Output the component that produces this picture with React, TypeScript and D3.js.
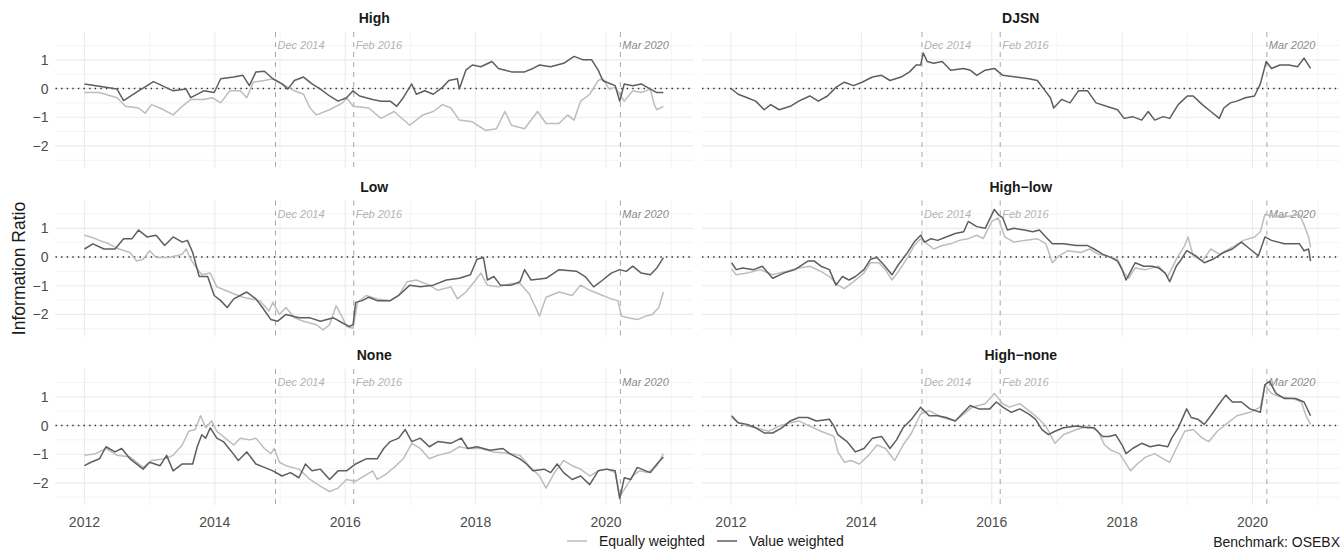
import React from "react";
import * as d3 from "d3";

type Pt = [number, number];

// facet titles (row by row, left to right)
const panelNames = ["High", "DJSN", "Low", "High\u2212low", "None", "High\u2212none"];

const seriesNames = ["Equally weighted", "Value weighted"];

const eventLabels = ["Dec 2014", "Feb 2016", "Mar 2020"];
const eventDates = [2014.93, 2016.13, 2020.22];

const yearTicks = [2012, 2014, 2016, 2018, 2020];
const yearMinor = [2013, 2015, 2017, 2019, 2021];
const irTicks = [-2, -1, 0, 1];
const irMinor = [-2.5, -1.5, -0.5, 0.5, 1.5];

// information ratio, [decimal year, value]
const highEqual: Pt[] = [
  [2012.0, -0.14], [2012.23, -0.14], [2012.5, -0.32], [2012.63, -0.62], [2012.83, -0.68], [2012.93, -0.86],
  [2013.03, -0.56], [2013.16, -0.68], [2013.36, -0.92], [2013.5, -0.62], [2013.63, -0.38], [2013.83, -0.38],
  [2013.96, -0.32], [2014.09, -0.5], [2014.23, -0.08], [2014.39, -0.08], [2014.49, -0.32], [2014.59, 0.22],
  [2014.76, 0.28], [2014.89, 0.34], [2015.03, 0.16], [2015.22, -0.08], [2015.36, -0.2], [2015.46, -0.68],
  [2015.56, -0.92], [2015.76, -0.74], [2015.96, -0.5], [2016.02, -0.32], [2016.12, -0.62], [2016.36, -0.68],
  [2016.55, -1.04], [2016.75, -0.8], [2016.99, -1.28], [2017.19, -0.92], [2017.35, -0.8], [2017.49, -0.56],
  [2017.62, -0.68], [2017.75, -1.1], [2017.95, -1.16], [2018.15, -1.46], [2018.32, -1.4], [2018.45, -0.8],
  [2018.55, -1.28], [2018.75, -1.4], [2018.95, -0.8], [2019.08, -1.22], [2019.28, -1.22], [2019.41, -0.92],
  [2019.51, -1.1], [2019.61, -0.44], [2019.75, -0.2], [2019.88, 0.28], [2019.95, 0.34], [2020.05, -0.02],
  [2020.14, 0.04], [2020.28, -0.44], [2020.41, -0.08], [2020.54, -0.14], [2020.68, -0.02], [2020.74, -0.56],
  [2020.78, -0.74], [2020.88, -0.62],
];
const highValue: Pt[] = [
  [2012.0, 0.16], [2012.5, -0.02], [2012.6, -0.42], [2012.83, -0.08], [2013.06, 0.24], [2013.36, -0.08],
  [2013.56, -0.02], [2013.63, -0.32], [2013.83, -0.08], [2013.99, -0.14], [2014.09, 0.34], [2014.29, 0.4],
  [2014.43, 0.46], [2014.53, 0.1], [2014.63, 0.58], [2014.76, 0.6], [2014.89, 0.34], [2015.03, 0.16],
  [2015.12, -0.02], [2015.22, 0.28], [2015.36, 0.4], [2015.49, 0.16], [2015.62, -0.02], [2015.76, -0.26],
  [2015.89, -0.44], [2016.02, -0.32], [2016.12, -0.08], [2016.22, -0.26], [2016.42, -0.38], [2016.55, -0.44],
  [2016.69, -0.44], [2016.79, -0.62], [2016.89, -0.32], [2017.02, 0.16], [2017.09, -0.2], [2017.22, -0.08],
  [2017.35, -0.2], [2017.49, 0.04], [2017.59, 0.28], [2017.72, 0.34], [2017.75, -0.02], [2017.85, 0.64],
  [2017.95, 0.82], [2018.08, 0.76], [2018.25, 0.94], [2018.35, 0.7], [2018.55, 0.58], [2018.75, 0.58],
  [2018.88, 0.7], [2018.98, 0.82], [2019.15, 0.76], [2019.35, 0.88], [2019.51, 1.12], [2019.65, 1.0],
  [2019.78, 1.0], [2019.88, 0.64], [2019.95, 0.28], [2020.01, 0.22], [2020.14, 0.1], [2020.21, -0.44],
  [2020.28, 0.16], [2020.41, 0.1], [2020.54, 0.16], [2020.68, -0.02], [2020.78, -0.14], [2020.88, -0.14],
];
const djsnValue: Pt[] = [
  [2012.0, 0.0], [2012.11, -0.2], [2012.25, -0.32], [2012.38, -0.44], [2012.51, -0.74], [2012.61, -0.56],
  [2012.74, -0.74], [2012.91, -0.62], [2013.04, -0.44], [2013.21, -0.26], [2013.34, -0.44], [2013.48, -0.26],
  [2013.61, 0.04], [2013.74, 0.22], [2013.88, 0.1], [2014.01, 0.22], [2014.17, 0.4], [2014.31, 0.46],
  [2014.44, 0.28], [2014.61, 0.4], [2014.74, 0.58], [2014.84, 0.82], [2014.91, 0.82], [2014.95, 1.24],
  [2015.01, 0.94], [2015.11, 0.88], [2015.24, 0.94], [2015.37, 0.64], [2015.57, 0.7], [2015.67, 0.64],
  [2015.77, 0.46], [2015.9, 0.64], [2016.04, 0.7], [2016.17, 0.46], [2016.37, 0.4], [2016.57, 0.34],
  [2016.7, 0.28], [2016.8, -0.02], [2016.9, -0.32], [2016.95, -0.68], [2017.07, -0.38], [2017.2, -0.5],
  [2017.33, -0.08], [2017.47, -0.08], [2017.6, -0.5], [2017.76, -0.62], [2017.93, -0.74], [2018.03, -1.04],
  [2018.16, -0.98], [2018.3, -1.1], [2018.4, -0.8], [2018.5, -1.1], [2018.63, -0.98], [2018.73, -1.04],
  [2018.86, -0.56], [2019.0, -0.26], [2019.09, -0.26], [2019.23, -0.56], [2019.36, -0.8], [2019.49, -1.04],
  [2019.56, -0.68], [2019.66, -0.5], [2019.76, -0.44], [2019.89, -0.32], [2020.03, -0.26], [2020.12, 0.16],
  [2020.21, 0.94], [2020.29, 0.7], [2020.42, 0.82], [2020.56, 0.82], [2020.69, 0.76], [2020.79, 1.06],
  [2020.89, 0.7],
];
const lowEqual: Pt[] = [
  [2012.0, 0.76], [2012.1, 0.7], [2012.23, 0.58], [2012.37, 0.46], [2012.53, 0.28], [2012.7, 0.16],
  [2012.8, -0.14], [2012.9, -0.08], [2013.0, 0.22], [2013.1, -0.02], [2013.3, -0.02], [2013.5, 0.1],
  [2013.56, 0.28], [2013.63, -0.08], [2013.7, -0.32], [2013.8, -0.62], [2013.93, -0.56], [2014.03, -1.04],
  [2014.16, -1.16], [2014.29, -1.28], [2014.43, -1.4], [2014.56, -1.46], [2014.69, -1.52], [2014.83, -1.88],
  [2014.89, -1.58], [2014.99, -2.0], [2015.09, -1.76], [2015.22, -2.12], [2015.36, -2.24], [2015.56, -2.36],
  [2015.66, -2.54], [2015.76, -2.36], [2015.86, -1.7], [2015.96, -2.12], [2016.02, -2.42], [2016.12, -2.48],
  [2016.19, -1.58], [2016.32, -1.34], [2016.49, -1.46], [2016.69, -1.52], [2016.82, -1.34], [2016.95, -0.86],
  [2017.09, -0.8], [2017.29, -0.98], [2017.42, -1.16], [2017.62, -1.04], [2017.72, -1.46], [2017.85, -1.22],
  [2017.98, -0.86], [2018.08, -0.56], [2018.18, -0.98], [2018.35, -1.04], [2018.55, -0.92], [2018.68, -0.92],
  [2018.82, -1.28], [2018.92, -1.76], [2018.98, -2.06], [2019.08, -1.4], [2019.28, -1.22], [2019.48, -1.34],
  [2019.61, -0.98], [2019.75, -1.16], [2019.95, -1.34], [2020.08, -1.46], [2020.18, -1.52], [2020.24, -2.06],
  [2020.34, -2.12], [2020.48, -2.18], [2020.61, -2.06], [2020.71, -2.0], [2020.81, -1.76], [2020.88, -1.22],
];
const lowValue: Pt[] = [
  [2012.0, 0.28], [2012.13, 0.46], [2012.3, 0.28], [2012.47, 0.28], [2012.6, 0.64], [2012.73, 0.64],
  [2012.83, 0.94], [2012.96, 0.7], [2013.1, 0.76], [2013.23, 0.4], [2013.36, 0.7], [2013.5, 0.52],
  [2013.58, 0.58], [2013.66, 0.16], [2013.76, -0.68], [2013.89, -0.68], [2013.99, -1.34], [2014.09, -1.52],
  [2014.19, -1.76], [2014.29, -1.46], [2014.49, -1.22], [2014.63, -1.46], [2014.73, -1.76], [2014.86, -2.18],
  [2014.96, -2.24], [2015.09, -2.0], [2015.29, -2.12], [2015.46, -2.12], [2015.62, -2.24], [2015.82, -2.12],
  [2015.96, -2.3], [2016.06, -2.42], [2016.12, -2.36], [2016.16, -1.58], [2016.26, -1.52], [2016.36, -1.4],
  [2016.49, -1.52], [2016.69, -1.52], [2016.82, -1.34], [2016.99, -0.98], [2017.15, -1.04], [2017.35, -0.98],
  [2017.55, -0.8], [2017.75, -0.74], [2017.92, -0.62], [2018.02, -0.08], [2018.12, -0.02], [2018.18, -0.8],
  [2018.28, -0.68], [2018.38, -0.98], [2018.55, -0.98], [2018.68, -0.86], [2018.75, -0.44], [2018.85, -0.8],
  [2019.08, -0.74], [2019.28, -0.44], [2019.55, -0.5], [2019.68, -0.68], [2019.81, -1.04], [2019.95, -0.8],
  [2020.08, -0.56], [2020.21, -0.44], [2020.31, -0.5], [2020.41, -0.32], [2020.54, -0.56], [2020.68, -0.62],
  [2020.78, -0.38], [2020.88, -0.02],
];
const highLowEqual: Pt[] = [
  [2012.01, -0.42], [2012.08, -0.62], [2012.25, -0.56], [2012.45, -0.44], [2012.64, -0.62], [2012.84, -0.5],
  [2013.04, -0.38], [2013.21, -0.32], [2013.38, -0.5], [2013.51, -0.68], [2013.64, -0.98], [2013.74, -1.1],
  [2013.88, -0.86], [2014.04, -0.56], [2014.14, -0.2], [2014.27, -0.2], [2014.37, -0.44], [2014.47, -0.8],
  [2014.57, -0.5], [2014.71, -0.02], [2014.81, 0.4], [2014.91, 0.64], [2015.01, 0.46], [2015.11, 0.28],
  [2015.24, 0.4], [2015.37, 0.46], [2015.5, 0.58], [2015.64, 0.64], [2015.77, 0.76], [2015.87, 0.64],
  [2016.0, 1.24], [2016.1, 1.36], [2016.2, 0.7], [2016.34, 0.52], [2016.5, 0.58], [2016.7, 0.64],
  [2016.83, 0.46], [2016.93, -0.2], [2017.03, 0.04], [2017.17, 0.22], [2017.37, 0.16], [2017.5, 0.28],
  [2017.63, 0.1], [2017.76, 0.04], [2017.93, -0.08], [2018.03, -0.56], [2018.1, -0.74], [2018.2, -0.38],
  [2018.36, -0.44], [2018.56, -0.32], [2018.7, -0.68], [2018.83, -0.08], [2018.96, 0.4], [2019.01, 0.7],
  [2019.09, 0.04], [2019.23, -0.14], [2019.36, 0.28], [2019.49, 0.1], [2019.69, 0.34], [2019.86, 0.58],
  [2020.03, 0.7], [2020.12, 0.88], [2020.19, 1.48], [2020.36, 1.42], [2020.56, 1.42], [2020.72, 1.48],
  [2020.79, 1.12], [2020.86, 0.7], [2020.89, 0.34],
];
const highLowValue: Pt[] = [
  [2012.01, -0.2], [2012.08, -0.44], [2012.18, -0.38], [2012.35, -0.44], [2012.48, -0.32], [2012.64, -0.74],
  [2012.81, -0.56], [2012.98, -0.44], [2013.18, -0.14], [2013.28, -0.14], [2013.38, -0.32], [2013.51, -0.44],
  [2013.61, -0.98], [2013.71, -0.68], [2013.81, -0.8], [2013.91, -0.68], [2014.04, -0.44], [2014.14, -0.08],
  [2014.24, -0.02], [2014.34, -0.26], [2014.47, -0.62], [2014.57, -0.26], [2014.71, 0.16], [2014.81, 0.52],
  [2014.91, 0.76], [2014.97, 0.52], [2015.07, 0.64], [2015.17, 0.58], [2015.3, 0.7], [2015.44, 0.82],
  [2015.57, 0.88], [2015.64, 1.24], [2015.77, 1.06], [2015.9, 1.0], [2016.04, 1.66], [2016.1, 1.48],
  [2016.17, 1.36], [2016.24, 0.94], [2016.34, 1.0], [2016.5, 0.94], [2016.63, 0.88], [2016.73, 0.94],
  [2016.83, 0.7], [2016.93, 0.46], [2017.1, 0.46], [2017.3, 0.4], [2017.47, 0.4], [2017.57, 0.28],
  [2017.7, 0.1], [2017.83, -0.02], [2017.93, -0.14], [2018.0, -0.44], [2018.06, -0.8], [2018.13, -0.5],
  [2018.2, -0.2], [2018.33, -0.32], [2018.46, -0.32], [2018.56, -0.38], [2018.66, -0.56], [2018.73, -0.86],
  [2018.83, -0.32], [2018.89, -0.14], [2018.99, 0.22], [2019.13, 0.04], [2019.26, -0.2], [2019.39, -0.08],
  [2019.56, 0.16], [2019.69, 0.28], [2019.83, 0.52], [2019.96, 0.28], [2020.09, 0.04], [2020.19, 0.7],
  [2020.29, 0.58], [2020.49, 0.46], [2020.62, 0.46], [2020.72, 0.46], [2020.79, 0.22], [2020.86, 0.28],
  [2020.89, -0.14],
];
const noneEqual: Pt[] = [
  [2012.0, -1.04], [2012.17, -0.98], [2012.33, -0.8], [2012.5, -1.04], [2012.7, -1.1], [2012.9, -1.46],
  [2013.03, -1.22], [2013.23, -1.16], [2013.36, -1.04], [2013.5, -0.68], [2013.6, -0.2], [2013.7, -0.14],
  [2013.78, 0.34], [2013.86, -0.08], [2013.95, 0.16], [2014.03, -0.2], [2014.16, -0.44], [2014.29, -0.68],
  [2014.39, -0.44], [2014.53, -0.5], [2014.63, -0.44], [2014.76, -0.8], [2014.86, -0.98], [2014.91, -0.8],
  [2014.99, -1.28], [2015.09, -1.4], [2015.29, -1.52], [2015.46, -1.88], [2015.62, -2.12], [2015.76, -2.3],
  [2015.89, -2.18], [2016.02, -1.88], [2016.16, -1.94], [2016.29, -1.76], [2016.42, -1.58], [2016.49, -1.88],
  [2016.62, -1.7], [2016.75, -1.46], [2016.89, -1.16], [2017.02, -0.62], [2017.15, -0.8], [2017.29, -1.16],
  [2017.42, -1.04], [2017.62, -0.92], [2017.75, -0.74], [2017.88, -0.8], [2018.08, -0.8], [2018.28, -0.92],
  [2018.55, -0.98], [2018.68, -1.04], [2018.82, -1.4], [2018.98, -1.76], [2019.08, -2.18], [2019.21, -1.64],
  [2019.35, -1.22], [2019.48, -1.4], [2019.61, -1.52], [2019.75, -1.76], [2019.88, -1.58], [2020.01, -1.52],
  [2020.14, -1.64], [2020.21, -2.48], [2020.31, -2.12], [2020.41, -1.76], [2020.51, -1.58], [2020.64, -1.64],
  [2020.78, -1.4], [2020.88, -0.98],
];
const noneValue: Pt[] = [
  [2012.0, -1.4], [2012.1, -1.28], [2012.23, -1.16], [2012.33, -0.74], [2012.47, -0.92], [2012.57, -0.8],
  [2012.7, -1.16], [2012.9, -1.52], [2013.0, -1.28], [2013.16, -1.4], [2013.26, -1.04], [2013.36, -1.58],
  [2013.5, -1.34], [2013.66, -1.34], [2013.73, -0.74], [2013.8, -0.32], [2013.86, -0.44], [2013.93, -0.08],
  [2014.03, -0.44], [2014.13, -0.56], [2014.26, -0.92], [2014.36, -1.22], [2014.49, -0.92], [2014.63, -1.34],
  [2014.76, -1.46], [2014.89, -1.58], [2015.03, -1.76], [2015.16, -1.64], [2015.29, -1.82], [2015.39, -1.34],
  [2015.49, -1.58], [2015.62, -1.52], [2015.76, -1.88], [2015.89, -1.58], [2016.02, -1.58], [2016.16, -1.34],
  [2016.32, -1.16], [2016.49, -1.16], [2016.59, -0.8], [2016.69, -0.56], [2016.82, -0.44], [2016.92, -0.14],
  [2017.02, -0.56], [2017.15, -0.44], [2017.29, -0.74], [2017.42, -0.56], [2017.62, -0.62], [2017.78, -0.44],
  [2017.88, -0.8], [2018.02, -0.74], [2018.22, -0.86], [2018.42, -0.8], [2018.52, -0.98], [2018.68, -1.16],
  [2018.78, -1.34], [2018.88, -1.58], [2019.05, -1.52], [2019.15, -1.64], [2019.25, -1.34], [2019.35, -1.64],
  [2019.48, -1.88], [2019.61, -1.76], [2019.75, -2.06], [2019.88, -1.58], [2020.01, -1.52], [2020.14, -1.58],
  [2020.21, -2.55], [2020.28, -1.82], [2020.38, -1.88], [2020.48, -1.46], [2020.61, -1.58], [2020.68, -1.64],
  [2020.78, -1.34], [2020.88, -1.1],
];
const highNoneEqual: Pt[] = [
  [2012.01, 0.28], [2012.11, 0.1], [2012.25, -0.02], [2012.38, -0.08], [2012.58, -0.2], [2012.74, -0.02],
  [2012.91, 0.1], [2013.04, 0.16], [2013.21, -0.02], [2013.38, -0.2], [2013.58, -0.38], [2013.64, -0.92],
  [2013.74, -1.28], [2013.84, -1.22], [2013.97, -1.34], [2014.11, -1.04], [2014.24, -0.68], [2014.37, -0.8],
  [2014.51, -1.22], [2014.64, -0.68], [2014.77, -0.26], [2014.91, 0.4], [2015.04, 0.52], [2015.24, 0.28],
  [2015.44, 0.16], [2015.57, 0.4], [2015.7, 0.64], [2015.9, 0.76], [2016.04, 1.12], [2016.17, 0.76],
  [2016.27, 0.64], [2016.43, 0.76], [2016.57, 0.52], [2016.7, 0.28], [2016.83, -0.02], [2016.97, -0.62],
  [2017.1, -0.32], [2017.3, -0.14], [2017.5, -0.02], [2017.63, -0.2], [2017.73, -0.68], [2017.83, -0.86],
  [2017.96, -0.98], [2018.13, -1.58], [2018.23, -1.34], [2018.36, -1.1], [2018.5, -0.98], [2018.63, -1.16],
  [2018.73, -1.28], [2018.83, -0.8], [2018.96, -0.2], [2019.09, -0.14], [2019.23, -0.44], [2019.33, -0.56],
  [2019.46, -0.2], [2019.59, 0.04], [2019.76, 0.34], [2019.96, 0.46], [2020.12, 0.64], [2020.19, 1.42],
  [2020.29, 1.12], [2020.42, 1.0], [2020.62, 0.94], [2020.75, 0.82], [2020.82, 0.34], [2020.89, 0.04],
];
const highNoneValue: Pt[] = [
  [2012.01, 0.34], [2012.11, 0.1], [2012.25, 0.04], [2012.38, -0.08], [2012.51, -0.26], [2012.64, -0.26],
  [2012.78, -0.08], [2012.91, 0.16], [2013.04, 0.28], [2013.18, 0.28], [2013.31, 0.16], [2013.51, 0.22],
  [2013.58, -0.02], [2013.64, -0.32], [2013.78, -0.56], [2013.91, -0.92], [2014.04, -0.8], [2014.17, -0.44],
  [2014.31, -0.38], [2014.44, -0.8], [2014.54, -0.5], [2014.64, -0.08], [2014.77, 0.22], [2014.91, 0.64],
  [2015.04, 0.34], [2015.17, 0.34], [2015.3, 0.28], [2015.44, 0.16], [2015.57, 0.46], [2015.67, 0.7],
  [2015.8, 0.58], [2015.97, 0.58], [2016.07, 0.82], [2016.17, 0.64], [2016.3, 0.46], [2016.43, 0.58],
  [2016.57, 0.4], [2016.67, 0.22], [2016.77, -0.14], [2016.87, -0.32], [2016.97, -0.2], [2017.1, -0.08],
  [2017.3, -0.02], [2017.47, -0.08], [2017.57, -0.08], [2017.7, -0.38], [2017.8, -0.38], [2017.9, -0.32],
  [2018.0, -0.68], [2018.06, -0.98], [2018.16, -0.8], [2018.3, -0.62], [2018.43, -0.74], [2018.56, -0.68],
  [2018.7, -0.74], [2018.76, -0.44], [2018.86, -0.08], [2018.99, 0.58], [2019.06, 0.28], [2019.16, 0.22],
  [2019.26, 0.04], [2019.36, 0.34], [2019.49, 0.76], [2019.59, 1.06], [2019.69, 0.82], [2019.83, 0.82],
  [2019.96, 0.58], [2020.12, 0.46], [2020.19, 1.42], [2020.26, 1.54], [2020.36, 1.12], [2020.49, 0.94],
  [2020.66, 0.94], [2020.79, 0.82], [2020.89, 0.34],
];

// per facet: [equally weighted, value weighted]
const panelSeries: (Pt[] | null)[][] = [
  [highEqual, highValue],
  [null, djsnValue],
  [lowEqual, lowValue],
  [highLowEqual, highLowValue],
  [noneEqual, noneValue],
  [highNoneEqual, highNoneValue],
];

const W = 1341;
const H = 550;
const colX = [55.5, 702];
const rowY = [32, 200.5, 369];
const panelW = 637.5;
const panelH = 136;
const FONT = "'Liberation Sans', Arial, Helvetica, sans-serif";
const lineColors = ["#bdbdbd", "#5e5e5e"];

const x = d3.scaleLinear().domain([2011.556, 2021.334]).range([0, panelW]);
const y = d3.scaleLinear().domain([-2.77, 1.97]).range([panelH, 0]);
const line = d3
  .line<Pt>()
  .x((d) => x(d[0]))
  .y((d) => y(d[1]));

const fmtIR = (v: number) => (v < 0 ? "\u2212" + Math.abs(v) : String(v));

const Panel = ({ idx }: { idx: number }) => {
  const col = idx % 2;
  const row = Math.floor(idx / 2);
  const tx = colX[col];
  const ty = rowY[row];
  return (
    <g transform={`translate(${tx},${ty})`}>
      {irMinor.map((v) => (
        <line key={"ym" + v} x1={0} x2={panelW} y1={y(v)} y2={y(v)} stroke="#ececec" strokeWidth={0.6} />
      ))}
      {yearMinor.map((v) => (
        <line key={"xm" + v} x1={x(v)} x2={x(v)} y1={0} y2={panelH} stroke="#ececec" strokeWidth={0.6} />
      ))}
      {irTicks.map((v) => (
        <line key={"y" + v} x1={0} x2={panelW} y1={y(v)} y2={y(v)} stroke="#ebebeb" strokeWidth={1.1} />
      ))}
      {yearTicks.map((v) => (
        <line key={"x" + v} x1={x(v)} x2={x(v)} y1={0} y2={panelH} stroke="#ebebeb" strokeWidth={1.1} />
      ))}
      <text
        x={panelW / 2}
        y={-14}
        textAnchor="middle"
        dominantBaseline="central"
        fontSize={14}
        fontWeight="bold"
        fill="#1a1a1a"
      >
        {panelNames[idx]}
      </text>
      {eventDates.map((d, i) => (
        <g key={"ev" + i}>
          <line
            x1={x(d)}
            x2={x(d)}
            y1={0}
            y2={panelH}
            stroke="#a6a6a6"
            strokeWidth={1}
            strokeDasharray="5,5"
          />
          <text
            x={x(d) + 2}
            y={y(1.5)}
            dominantBaseline="central"
            fontSize={11}
            fontStyle="italic"
            fill={i === 2 ? "#8c8c8c" : "#b3b3b3"}
          >
            {eventLabels[i]}
          </text>
        </g>
      ))}
      <line
        x1={0}
        x2={panelW}
        y1={y(0)}
        y2={y(0)}
        stroke="#2b2b2b"
        strokeWidth={1.4}
        strokeDasharray="1.4,4.2"
      />
      {panelSeries[idx].map((s, i) =>
        s ? (
          <path key={"s" + i} d={line(s) ?? ""} fill="none" stroke={lineColors[i]} strokeWidth={1.5} strokeLinejoin="round" />
        ) : null
      )}
      {col === 0 &&
        irTicks.map((v) => (
          <text
            key={"yl" + v}
            x={-7}
            y={y(v)}
            textAnchor="end"
            dominantBaseline="central"
            fontSize={14}
            fill="#4d4d4d"
          >
            {fmtIR(v)}
          </text>
        ))}
      {row === 2 &&
        yearTicks.map((v) => (
          <text
            key={"xl" + v}
            x={x(v)}
            y={panelH + 16.5}
            textAnchor="middle"
            dominantBaseline="central"
            fontSize={14}
            fill="#4d4d4d"
          >
            {v}
          </text>
        ))}
    </g>
  );
};

export default function App() {
  const legendX = [567, 717];
  return (
    <svg
      width={W}
      height={H}
      viewBox={`0 0 ${W} ${H}`}
      style={{ position: "absolute", left: 0, top: 0, display: "block", background: "#fff" }}
      fontFamily={FONT}
    >
      <rect width={W} height={H} fill="#fff" />
      {panelNames.map((_, i) => (
        <Panel key={i} idx={i} />
      ))}
      <text
        transform={`translate(19,${(rowY[0] + rowY[2] + panelH) / 2}) rotate(-90)`}
        textAnchor="middle"
        dominantBaseline="central"
        fontSize={17.5}
        fill="#1a1a1a"
      >
        Information Ratio
      </text>
      {seriesNames.map((n, i) => (
        <g key={n} transform={`translate(${legendX[i]},541)`}>
          <line x1={0} x2={20} y1={0} y2={0} stroke={lineColors[i]} strokeWidth={1.5} />
          <text x={32} y={0} dominantBaseline="central" fontSize={14} fill="#1a1a1a">
            {n}
          </text>
        </g>
      ))}
      <text x={1340} y={542} textAnchor="end" dominantBaseline="central" fontSize={14} fill="#1a1a1a">
        Benchmark: OSEBX
      </text>
    </svg>
  );
}
